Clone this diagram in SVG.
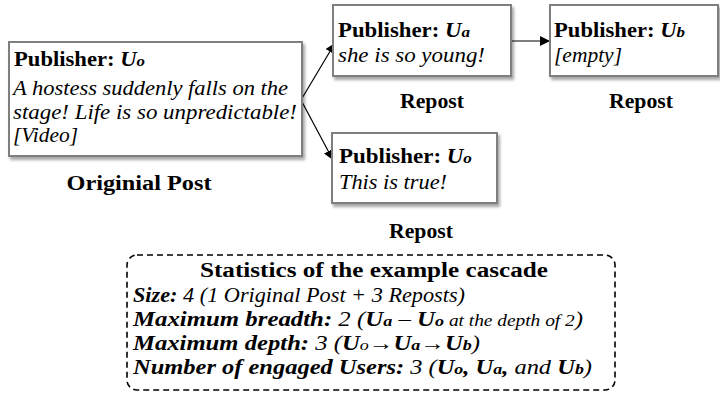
<svg xmlns="http://www.w3.org/2000/svg" width="720" height="393" viewBox="0 0 720 393">
<style>
  .b { font-weight: bold; }
  .i { font-style: italic; }
  .bi { font-weight: bold; font-style: italic; }
  .t { font-size: 20px; }
  .s { font-size: 20.5px; }
  .sub { font-size: 15px; }
  .box { fill: #fff; stroke: #7f7f7f; stroke-width: 2; filter: url(#sh); }
  .conn { stroke: #000; stroke-width: 1.2; fill: none; marker-end: url(#arr); }
</style>
<defs>
  <filter id="sh" x="-10%" y="-10%" width="125%" height="140%">
    <feDropShadow dx="2" dy="3" stdDeviation="1.8" flood-color="#000" flood-opacity="0.35"/>
  </filter>
  <marker id="arr" viewBox="0 0 10 10" refX="10" refY="5" markerWidth="10" markerHeight="10" markerUnits="userSpaceOnUse" orient="auto">
    <path d="M0,0 L10,5 L0,10 z" fill="#000"/>
  </marker>
</defs>
<rect width="720" height="393" fill="#fff"/>

<g id="connectors">
  <line class="conn" x1="301" y1="100" x2="335" y2="43"/>
  <line class="conn" x1="301" y1="100" x2="333" y2="160"/>
  <line class="conn" x1="511" y1="41" x2="550" y2="41"/>
</g>

<g id="node-original" font-family="Liberation Serif">
  <rect class="box" x="9" y="42" width="293" height="114"/>
  <text class="t" x="14" y="66" textLength="131" lengthAdjust="spacingAndGlyphs"><tspan class="b">Publisher: </tspan><tspan class="bi">U</tspan><tspan class="bi sub">o</tspan></text>
  <text class="t i" x="13" y="95" textLength="275" lengthAdjust="spacingAndGlyphs">A hostess suddenly falls on the</text>
  <text class="t i" x="13" y="119" textLength="284" lengthAdjust="spacingAndGlyphs">stage! Life is so unpredictable!</text>
  <text class="t i" x="13" y="142" textLength="65" lengthAdjust="spacingAndGlyphs">[Video]</text>
  <text class="t b" x="139" y="190" text-anchor="middle" textLength="145" lengthAdjust="spacingAndGlyphs">Originial Post</text>
</g>

<g id="node-repost-ua" font-family="Liberation Serif">
  <rect class="box" x="333" y="5" width="178" height="71"/>
  <text class="t" x="338" y="37" textLength="132" lengthAdjust="spacingAndGlyphs"><tspan class="b">Publisher: </tspan><tspan class="bi">U</tspan><tspan class="bi sub">a</tspan></text>
  <text class="t i" x="338" y="62" textLength="147" lengthAdjust="spacingAndGlyphs">she is so young!</text>
  <text class="t b" x="432" y="108" text-anchor="middle" textLength="64" lengthAdjust="spacingAndGlyphs">Repost</text>
</g>

<g id="node-repost-ub" font-family="Liberation Serif">
  <rect class="box" x="550" y="5" width="168" height="71"/>
  <text class="t" x="554" y="37" textLength="131" lengthAdjust="spacingAndGlyphs"><tspan class="b">Publisher: </tspan><tspan class="bi">U</tspan><tspan class="bi sub">b</tspan></text>
  <text class="t i" x="554" y="62" textLength="68" lengthAdjust="spacingAndGlyphs">[empty]</text>
  <text class="t b" x="641" y="108" text-anchor="middle" textLength="64" lengthAdjust="spacingAndGlyphs">Repost</text>
</g>

<g id="node-repost-uo" font-family="Liberation Serif">
  <rect class="box" x="332" y="133" width="165" height="70"/>
  <text class="t" x="339" y="163" textLength="133" lengthAdjust="spacingAndGlyphs"><tspan class="b">Publisher: </tspan><tspan class="bi">U</tspan><tspan class="bi sub">o</tspan></text>
  <text class="t i" x="339" y="189" textLength="108" lengthAdjust="spacingAndGlyphs">This is true!</text>
  <text class="t b" x="421" y="238" text-anchor="middle" textLength="64" lengthAdjust="spacingAndGlyphs">Repost</text>
</g>

<g id="statistics" font-family="Liberation Serif">
  <rect x="127" y="255" width="488" height="135" rx="10" ry="10" fill="none" stroke="#000" stroke-width="1.6" stroke-dasharray="6 4"/>
  <text class="s b" x="374" y="277" text-anchor="middle" textLength="348" lengthAdjust="spacingAndGlyphs">Statistics of the example cascade</text>
  <text class="s" x="133" y="302" textLength="332" lengthAdjust="spacingAndGlyphs"><tspan class="bi">Size:</tspan><tspan class="i"> 4 (1 Original Post + 3 Reposts)</tspan></text>
  <text class="s" x="133" y="326" textLength="450" lengthAdjust="spacingAndGlyphs"><tspan class="bi">Maximum breadth:</tspan><tspan class="i"> 2 (</tspan><tspan class="bi">U</tspan><tspan class="bi sub">a</tspan><tspan class="i"> – </tspan><tspan class="bi">U</tspan><tspan class="bi sub">o</tspan><tspan class="i" font-size="16"> at the depth of 2</tspan><tspan class="i">)</tspan></text>
  <text class="s" x="133" y="350" textLength="347" lengthAdjust="spacingAndGlyphs"><tspan class="bi">Maximum depth:</tspan><tspan class="i"> 3 (</tspan><tspan class="bi">U</tspan><tspan class="i sub">o</tspan><tspan class="i">→</tspan><tspan class="bi">U</tspan><tspan class="bi sub">a</tspan><tspan class="i">→</tspan><tspan class="bi">U</tspan><tspan class="bi sub">b</tspan><tspan class="i">)</tspan></text>
  <text class="s" x="133" y="374" textLength="459" lengthAdjust="spacingAndGlyphs"><tspan class="bi">Number of engaged Users:</tspan><tspan class="i"> 3 (</tspan><tspan class="bi">U</tspan><tspan class="bi sub">o</tspan><tspan class="bi">, U</tspan><tspan class="bi sub">a</tspan><tspan class="bi">,</tspan><tspan class="i"> and </tspan><tspan class="bi">U</tspan><tspan class="bi sub">b</tspan><tspan class="i">)</tspan></text>
</g>
</svg>
